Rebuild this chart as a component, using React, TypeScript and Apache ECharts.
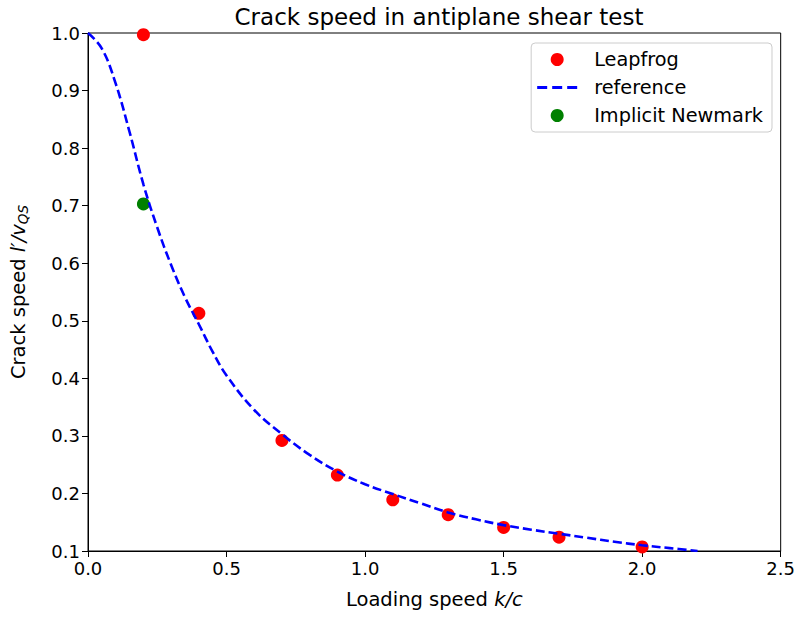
import React, { useEffect, useRef } from "react";
import * as echarts from "echarts";

const refX = [0, 0.05, 0.1, 0.15, 0.2, 0.25, 0.3, 0.35, 0.4, 0.45, 0.5, 0.6, 0.7, 0.8, 0.9, 1.0, 1.1, 1.2, 1.3, 1.4, 1.5, 1.6, 1.7, 1.8, 1.9, 2.0, 2.1, 2.2];
const refY = [1.0, 0.973, 0.912, 0.828, 0.737, 0.662, 0.597, 0.541, 0.494, 0.446, 0.405, 0.345, 0.303, 0.267, 0.238, 0.216, 0.199, 0.183, 0.167, 0.155, 0.145, 0.137, 0.13, 0.123, 0.116, 0.11, 0.105, 0.1];

const leapX = [0.2, 0.4, 0.7, 0.9, 1.1, 1.3, 1.5, 1.7, 2.0];
const leapY = [0.997, 0.513, 0.292, 0.232, 0.189, 0.163, 0.141, 0.124, 0.107];

const newmarkX = [0.2];
const newmarkY = [0.703];

const FONT = "DejaVu Sans";
const DASH_ICON = "path://M0,0h10v3h-10zM15,0h10v3h-10zM30,0h10v3h-10z";

export default function App() {
  const ref = useRef<HTMLDivElement>(null);
  useEffect(() => {
    const chart = echarts.init(ref.current!, undefined, { renderer: "svg" });
    chart.setOption({
      animation: false,
      backgroundColor: "#fff",
      textStyle: { fontFamily: FONT },
      title: {
        text: "Crack speed in antiplane shear test",
        left: 434,
        textAlign: "center",
        top: 0,
        textStyle: { fontFamily: FONT, fontSize: 23, fontWeight: "normal", color: "#000" },
      },
      grid: { left: 88, right: 16, top: 33, bottom: 66, show: true, borderColor: "#000", borderWidth: 1, backgroundColor: "transparent" },
      legend: {
        orient: "vertical",
        right: 26,
        top: 43,
        padding: [7, 9, 7, 6],
        itemGap: 9,
        itemWidth: 40,
        itemHeight: 13,
        borderColor: "#ccc",
        borderWidth: 1,
        borderRadius: 4,
        backgroundColor: "#fff",
        textStyle: { fontFamily: FONT, fontSize: 19.3, color: "#000", padding: [0, 0, 0, 12] },
        data: [
          { name: "Leapfrog", icon: "circle" },
          { name: "reference", icon: DASH_ICON },
          { name: "Implicit Newmark", icon: "circle" },
        ],
      },
      xAxis: {
        type: "value",
        min: 0,
        max: 2.5,
        interval: 0.5,
        name: "{n|Loading speed }{i|k/c}",
        nameLocation: "middle",
        nameGap: 38,
        nameTextStyle: {
          rich: {
            n: { fontFamily: FONT, fontSize: 19.5, color: "#000" },
            i: { fontFamily: FONT, fontSize: 19.5, fontStyle: "italic", color: "#000" },
          },
        },
        axisLine: { lineStyle: { color: "#000", width: 1 } },
        axisTick: { show: true, length: 6, lineStyle: { color: "#000" } },
        axisLabel: { fontFamily: FONT, fontSize: 18, color: "#000", margin: 8, formatter: (v: number) => v.toFixed(1) },
        splitLine: { show: false },
      },
      yAxis: {
        type: "value",
        min: 0.1,
        max: 1.0,
        interval: 0.1,
        name: "{n|Crack speed }{i|l′/v}{s|QS}",
        nameLocation: "middle",
        nameGap: 58,
        nameRotate: 90,
        nameTextStyle: {
          rich: {
            n: { fontFamily: FONT, fontSize: 19.5, color: "#000" },
            i: { fontFamily: FONT, fontSize: 19.5, fontStyle: "italic", color: "#000" },
            s: { fontFamily: FONT, fontSize: 13.5, fontStyle: "italic", color: "#000", padding: [10, 0, 0, 0] },
          },
        },
        axisLine: { show: true, lineStyle: { color: "#000", width: 1 } },
        axisTick: { show: true, length: 6, lineStyle: { color: "#000" } },
        axisLabel: { fontFamily: FONT, fontSize: 18, color: "#000", margin: 8, formatter: (v: number) => v.toFixed(1) },
        splitLine: { show: false },
      },
      series: [
        {
          name: "Leapfrog",
          type: "scatter",
          data: leapX.map((x, i) => [x, leapY[i]]),
          symbol: "circle",
          symbolSize: 13,
          clip: true,
          itemStyle: { color: "#ff0000", opacity: 1 },
          z: 3,
        },
        {
          name: "reference",
          type: "line",
          data: refX.map((x, i) => [x, refY[i]]),
          smooth: 0.4,
          showSymbol: false,
          symbol: "none",
          lineStyle: { color: "#0000ff", width: 2.6, type: [9, 4] },
          itemStyle: { color: "#0000ff" },
          z: 4,
        },
        {
          name: "Implicit Newmark",
          type: "scatter",
          data: newmarkX.map((x, i) => [x, newmarkY[i]]),
          symbol: "circle",
          symbolSize: 13,
          clip: true,
          itemStyle: { color: "#008000", opacity: 1 },
          z: 3,
        },
      ],
    });
    return () => chart.dispose();
  }, []);
  return <div ref={ref} style={{ width: 798, height: 617, position: "absolute", left: 0, top: 0 }} />;
}
